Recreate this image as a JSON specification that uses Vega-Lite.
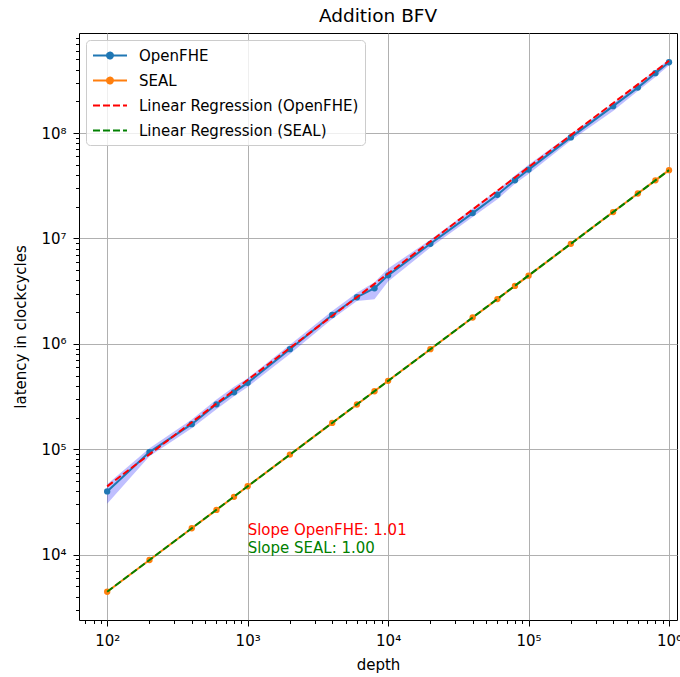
{
  "$schema": "https://vega.github.io/schema/vega-lite/v6.json",
  "autosize": {"type": "none"},
  "padding": {"left": 79, "top": 33, "right": 3, "bottom": 57},
  "width": 598,
  "height": 587,
  "background": "white",
  "title": {"text": "Addition BFV", "font": "DejaVu Sans", "fontSize": 18.5, "fontWeight": "normal", "color": "black", "offset": 5, "anchor": "middle"},
  "config": {
    "font": "DejaVu Sans",
    "view": {"stroke": "black", "strokeWidth": 1},
    "axis": {"labelFont": "DejaVu Sans", "titleFont": "DejaVu Sans", "labelFontSize": 15, "titleFontSize": 15, "titleFontWeight": "normal", "labelColor": "black", "titleColor": "black", "domain": false, "tickColor": "black", "gridColor": "#b0b0b0", "gridWidth": 1}
  },
  "datasets": {
    "main": [
      {"series": "OpenFHE", "depth": 100, "latency": 39800, "lo": 30500, "hi": 46500},
      {"series": "OpenFHE", "depth": 200, "latency": 94000, "lo": 86000, "hi": 102000},
      {"series": "OpenFHE", "depth": 400, "latency": 173000, "lo": 158000, "hi": 192000},
      {"series": "OpenFHE", "depth": 600, "latency": 267000, "lo": 240000, "hi": 296000},
      {"series": "OpenFHE", "depth": 800, "latency": 347000, "lo": 318000, "hi": 392000},
      {"series": "OpenFHE", "depth": 1000, "latency": 427000, "lo": 390000, "hi": 472000},
      {"series": "OpenFHE", "depth": 2000, "latency": 890000, "lo": 800000, "hi": 980000},
      {"series": "OpenFHE", "depth": 4000, "latency": 1880000, "lo": 1720000, "hi": 2050000},
      {"series": "OpenFHE", "depth": 6000, "latency": 2770000, "lo": 2550000, "hi": 3050000},
      {"series": "OpenFHE", "depth": 8000, "latency": 3370000, "lo": 2650000, "hi": 3850000},
      {"series": "OpenFHE", "depth": 10000, "latency": 4470000, "lo": 3900000, "hi": 5200000},
      {"series": "OpenFHE", "depth": 20000, "latency": 8900000, "lo": 8200000, "hi": 9700000},
      {"series": "OpenFHE", "depth": 40000, "latency": 17400000, "lo": 16000000, "hi": 19200000},
      {"series": "OpenFHE", "depth": 60000, "latency": 26000000, "lo": 23500000, "hi": 28800000},
      {"series": "OpenFHE", "depth": 80000, "latency": 35700000, "lo": 33000000, "hi": 39500000},
      {"series": "OpenFHE", "depth": 100000, "latency": 45000000, "lo": 41000000, "hi": 50000000},
      {"series": "OpenFHE", "depth": 200000, "latency": 91000000, "lo": 85000000, "hi": 98000000},
      {"series": "OpenFHE", "depth": 400000, "latency": 180000000, "lo": 162000000, "hi": 192000000},
      {"series": "OpenFHE", "depth": 600000, "latency": 270000000, "lo": 250000000, "hi": 292000000},
      {"series": "OpenFHE", "depth": 800000, "latency": 370000000, "lo": 340000000, "hi": 396000000},
      {"series": "OpenFHE", "depth": 1000000, "latency": 470000000, "lo": 440000000, "hi": 500000000},
      {"series": "SEAL", "depth": 100, "latency": 4450},
      {"series": "SEAL", "depth": 200, "latency": 8900},
      {"series": "SEAL", "depth": 400, "latency": 17800},
      {"series": "SEAL", "depth": 600, "latency": 26600},
      {"series": "SEAL", "depth": 800, "latency": 35400},
      {"series": "SEAL", "depth": 1000, "latency": 44600},
      {"series": "SEAL", "depth": 2000, "latency": 89000},
      {"series": "SEAL", "depth": 4000, "latency": 178000},
      {"series": "SEAL", "depth": 6000, "latency": 266000},
      {"series": "SEAL", "depth": 8000, "latency": 355000},
      {"series": "SEAL", "depth": 10000, "latency": 446000},
      {"series": "SEAL", "depth": 20000, "latency": 890000},
      {"series": "SEAL", "depth": 40000, "latency": 1780000},
      {"series": "SEAL", "depth": 60000, "latency": 2660000},
      {"series": "SEAL", "depth": 80000, "latency": 3550000},
      {"series": "SEAL", "depth": 100000, "latency": 4440000},
      {"series": "SEAL", "depth": 200000, "latency": 8900000},
      {"series": "SEAL", "depth": 400000, "latency": 17800000},
      {"series": "SEAL", "depth": 600000, "latency": 26700000},
      {"series": "SEAL", "depth": 800000, "latency": 35600000},
      {"series": "SEAL", "depth": 1000000, "latency": 44500000}
    ],
    "reg": [
      {"series": "Linear Regression (OpenFHE)", "depth": 100, "latency": 44500},
      {"series": "Linear Regression (OpenFHE)", "depth": 1000000, "latency": 485000000},
      {"series": "Linear Regression (SEAL)", "depth": 100, "latency": 4450},
      {"series": "Linear Regression (SEAL)", "depth": 1000000, "latency": 44500000}
    ],
    "notes": [
      {"depth": 1000, "latency": 17300, "label": "Slope OpenFHE: 1.01", "c": "OpenFHE"},
      {"depth": 1000, "latency": 11600, "label": "Slope SEAL: 1.00", "c": "SEAL"}
    ]
  },
  "encoding": {
    "x": {
      "field": "depth", "type": "quantitative",
      "scale": {"type": "log", "domain": [63, 1140000], "nice": false},
      "axis": {
        "title": "depth", "titlePadding": 9,
        "values": [70,80,90,100,200,300,400,500,600,700,800,900,1000,2000,3000,4000,5000,6000,7000,8000,9000,10000,20000,30000,40000,50000,60000,70000,80000,90000,100000,200000,300000,400000,500000,600000,700000,800000,900000,1000000],
        "labelExpr": "abs(log(datum.value)/LN10 - round(log(datum.value)/LN10)) < 0.001 ? '10' + ['⁰','¹','²','³','⁴','⁵','⁶','⁷','⁸','⁹'][round(log(datum.value)/LN10)] : ''",
        "tickSize": {"condition": {"test": "abs(log(datum.value)/LN10 - round(log(datum.value)/LN10)) < 0.001", "value": 6}, "value": 3.5},
        "gridOpacity": {"condition": {"test": "abs(log(datum.value)/LN10 - round(log(datum.value)/LN10)) < 0.001", "value": 1}, "value": 0},
        "labelPadding": 7, "labelFlush": false, "labelOverlap": false
      }
    },
    "y": {
      "field": "latency", "type": "quantitative",
      "scale": {"type": "log", "domain": [2400, 890000000], "nice": false},
      "axis": {
        "title": "latency in clockcycles", "titlePadding": 12,
        "values": [3000,4000,5000,6000,7000,8000,9000,10000,20000,30000,40000,50000,60000,70000,80000,90000,100000,200000,300000,400000,500000,600000,700000,800000,900000,1000000,2000000,3000000,4000000,5000000,6000000,7000000,8000000,9000000,10000000,20000000,30000000,40000000,50000000,60000000,70000000,80000000,90000000,100000000,200000000,300000000,400000000,500000000,600000000,700000000,800000000],
        "labelExpr": "abs(log(datum.value)/LN10 - round(log(datum.value)/LN10)) < 0.001 ? '10' + ['⁰','¹','²','³','⁴','⁵','⁶','⁷','⁸','⁹'][round(log(datum.value)/LN10)] : ''",
        "tickSize": {"condition": {"test": "abs(log(datum.value)/LN10 - round(log(datum.value)/LN10)) < 0.001", "value": 6}, "value": 3.5},
        "gridOpacity": {"condition": {"test": "abs(log(datum.value)/LN10 - round(log(datum.value)/LN10)) < 0.001", "value": 1}, "value": 0},
        "labelPadding": 7, "labelFlush": false, "labelOverlap": false
      }
    }
  },
  "layer": [
    {
      "data": {"name": "main"},
      "transform": [{"filter": "datum.series == 'OpenFHE'"}],
      "mark": {"type": "area", "color": "blue", "opacity": 0.25},
      "encoding": {"y": {"field": "lo", "type": "quantitative"}, "y2": {"field": "hi"}}
    },
    {
      "data": {"name": "main"},
      "mark": {"type": "line", "strokeWidth": 2, "point": {"size": 40, "filled": true, "opacity": 1}},
      "encoding": {
        "color": {
          "field": "series", "type": "nominal",
          "scale": {"domain": ["OpenFHE", "SEAL", "Linear Regression (OpenFHE)", "Linear Regression (SEAL)"], "range": ["#1f77b4", "#ff7f0e", "#ff0000", "#008000"]},
          "legend": {
            "title": null, "orient": "top-left", "offset": 7,
            "padding": 6, "strokeColor": "#cccccc", "fillColor": "rgba(255,255,255,0.8)", "cornerRadius": 4,
            "labelFont": "DejaVu Sans", "labelFontSize": 15, "labelColor": "black",
            "symbolSize": 289, "symbolStrokeWidth": 2, "rowPadding": 7, "labelOffset": 28, "labelLimit": 400,
            "symbolType": "M-1,0L3,0",
            "encode": {
              "symbols": {
                "update": {
                  "shape": {"signal": "indexof(datum.value, 'Linear') >= 0 ? 'M-1,0L3,0' : 'M-1,0L3,0M1.35,0A0.35,0.35 0 1,1 0.65,0A0.35,0.35 0 1,1 1.35,0'"},
                  "strokeDash": {"signal": "indexof(datum.value, 'Linear') >= 0 ? [7,3] : [1,0]"},
                  "fill": {"scale": "color", "field": "value"},
                  "fillOpacity": {"value": 1},
                  "strokeWidth": {"value": 2},
                  "opacity": {"value": 1}
                }
              }
            }
          }
        }
      }
    },
    {
      "data": {"name": "reg"},
      "mark": {"type": "line", "strokeWidth": 2, "strokeDash": [7, 3]},
      "encoding": {"color": {"field": "series", "type": "nominal"}}
    },
    {
      "data": {"name": "notes"},
      "mark": {"type": "text", "align": "left", "baseline": "middle", "fontSize": 15, "font": "DejaVu Sans"},
      "encoding": {
        "text": {"field": "label"},
        "color": {"condition": {"test": "datum.c == 'OpenFHE'", "value": "#ff0000"}, "value": "#008000"}
      }
    }
  ]
}
